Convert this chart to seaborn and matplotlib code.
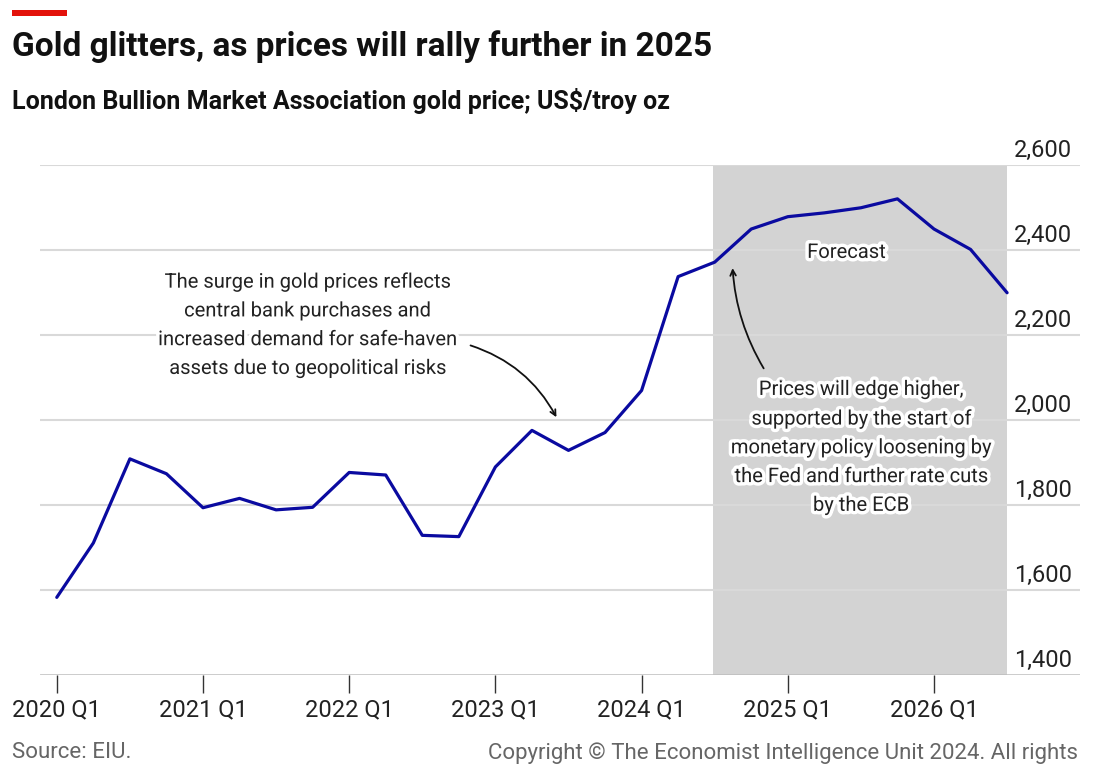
import pandas as pd
import numpy as np
import matplotlib.pyplot as plt
import matplotlib.patheffects as pe
import seaborn as sns

# LBMA gold price, quarterly averages (actual to 2024 Q2, EIU forecast after)
quarters = ["2020 Q1", "2020 Q2", "2020 Q3", "2020 Q4",
            "2021 Q1", "2021 Q2", "2021 Q3", "2021 Q4",
            "2022 Q1", "2022 Q2", "2022 Q3", "2022 Q4",
            "2023 Q1", "2023 Q2", "2023 Q3", "2023 Q4",
            "2024 Q1", "2024 Q2", "2024 Q3", "2024 Q4",
            "2025 Q1", "2025 Q2", "2025 Q3", "2025 Q4",
            "2026 Q1", "2026 Q2", "2026 Q3"]
price = [1583, 1711, 1909, 1874,
         1794, 1816, 1789, 1795,
         1877, 1871, 1729, 1726,
         1890, 1976, 1929, 1971,
         2070, 2338, 2372, 2450,
         2479, 2488, 2500, 2521,
         2450, 2402, 2300]
forecast_start = "2024 Q3"
forecast_end = "2026 Q3"
yticks = [1400, 1600, 1800, 2000, 2200, 2400, 2600]
xtick_labels = ["2020 Q1", "2021 Q1", "2022 Q1", "2023 Q1", "2024 Q1", "2025 Q1", "2026 Q1"]

df = pd.DataFrame({"quarter": quarters, "price": price})
df["idx"] = np.arange(len(df))

sns.set_style("white")
plt.rcParams['font.family'] = ['Roboto', 'DejaVu Sans']

fig = plt.figure(figsize=(11, 7.76), dpi=100)
ax = fig.add_axes([0.036, 0.130, 0.946, 0.657])

# forecast shading
x0 = quarters.index(forecast_start)
x1 = quarters.index(forecast_end)
ax.axvspan(x0 - 0.05, x1, color="#d3d3d3", lw=0, zorder=0)

# gridlines
for v in yticks[1:]:
    ax.axhline(v, color="#d9d9d9", lw=1.5, zorder=1)
ax.axhline(yticks[0], color="#bdbdbd", lw=1.8, zorder=1)

sns.lineplot(data=df, x="idx", y="price", ax=ax, color="#0a0aa0", lw=2.3, zorder=3)

ax.set_xlim(-0.47, 28.0)
ax.set_ylim(1400, 2600)
for s in ax.spines.values():
    s.set_visible(False)
ax.set_xlabel("")
ax.set_ylabel("")
ax.set_yticks([])

ax.set_xticks([quarters.index(q) for q in xtick_labels])
ax.set_xticklabels(xtick_labels, fontsize=17, color="#222222")
ax.tick_params(axis="x", bottom=True, direction="out", length=13, width=1,
               color="#333333", pad=4)

# y labels sit above gridlines on the right
for v in yticks:
    ax.text(0.9925, v + 8, f"{v:,}", transform=ax.get_yaxis_transform(),
            ha="right", va="bottom", fontsize=17, color="#222222")

halo = [pe.withStroke(linewidth=5, foreground="white")]

ax.text(21.6, 2395, "Forecast", ha="center", va="center", fontsize=14.5,
        color="#222222", path_effects=halo, zorder=5)

ax.text(6.85, 2224,
        "The surge in gold prices reflects\ncentral bank purchases and\n"
        "increased demand for safe-haven\nassets due to geopolitical risks",
        ha="center", va="center", fontsize=14.5, linespacing=1.65,
        color="#222222", path_effects=halo, zorder=5)
ax.annotate("", xy=(13.67, 2007), xytext=(11.32, 2176),
            arrowprops=dict(arrowstyle="->", color="#111111", lw=1.3,
                            connectionstyle="arc3,rad=-0.2", shrinkA=0, shrinkB=0))

ax.text(22.0, 1936,
        "Prices will edge higher,\nsupported by the start of\nmonetary policy loosening by\n"
        "the Fed and further rate cuts\nby the ECB",
        ha="center", va="center", fontsize=14.5, linespacing=1.65,
        color="#222222", path_effects=halo, zorder=5)
ax.annotate("", xy=(18.49, 2358), xytext=(19.34, 2122),
            arrowprops=dict(arrowstyle="->", color="#111111", lw=1.3,
                            connectionstyle="arc3,rad=-0.12", shrinkA=0, shrinkB=0))

# header
fig.patches.append(plt.Rectangle((12 / 1100, 1 - 16 / 776), 55 / 1100, 6 / 776,
                                 transform=fig.transFigure, color="#e3120b", lw=0))
fig.text(12 / 1100, 1 - 47 / 776, "Gold glitters, as prices will rally further in 2025",
         fontsize=24, fontweight="bold", color="#111111", va="center", ha="left")
fig.text(12 / 1100, 1 - 101 / 776, "London Bullion Market Association gold price; US$/troy oz",
         fontsize=18, fontweight="bold", color="#111111", va="center", ha="left")

# footer
fig.text(12 / 1100, 1 - 753 / 776, "Source: EIU.", fontsize=16, color="#666666",
         va="center", ha="left")
fig.text(1078 / 1100, 1 - 753 / 776,
         "Copyright \u00a9 The Economist Intelligence Unit 2024. All rights",
         fontsize=16, color="#666666", va="center", ha="right")

fig.savefig("out.png", dpi=100)
